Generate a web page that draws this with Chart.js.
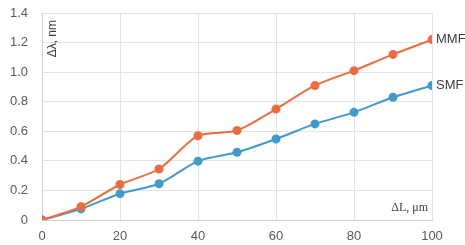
<!DOCTYPE html>
<html><head><meta charset="utf-8">
<script src="https://cdn.jsdelivr.net/npm/chart.js@4/dist/chart.umd.min.js"></script>
<style>html,body{margin:0;padding:0;background:#fff}#wrap{width:465px;height:245px}</style>
</head><body><div id="wrap"><canvas id="c" width="465" height="245"></canvas></div>
<script>
const xValues = [0, 10, 20, 30, 40, 50, 60, 70, 80, 90, 100];
const mmfValues = [0, 0.09, 0.24, 0.345, 0.57, 0.605, 0.75, 0.91, 1.01, 1.12, 1.22];
const smfValues = [0, 0.075, 0.178, 0.245, 0.398, 0.458, 0.548, 0.65, 0.728, 0.83, 0.91];
const seriesNames = ['MMF', 'SMF'];
const yTitle = 'Δλ, nm';
const xTitle = 'ΔL, μm';

const ORANGE = '#EE6C3E', BLUE = '#3F9BCC';
const FONT = '"Liberation Sans", Arial, sans-serif';
const SERIF = '"Liberation Serif", "Times New Roman", serif';

const labelsPlugin = {
  id: 'labelsPlugin',
  afterDatasetsDraw(chart) {
    const ctx = chart.ctx, a = chart.chartArea;
    ctx.save();
    ctx.fillStyle = '#404040';
    ctx.font = '13px ' + FONT;
    ctx.textBaseline = 'middle';
    ctx.textAlign = 'left';
    chart.data.datasets.forEach((ds, i) => {
      const meta = chart.getDatasetMeta(i);
      const p = meta.data[meta.data.length - 1];
      ctx.fillText(ds.label, p.x + 4, p.y);
    });
    ctx.font = '12px ' + SERIF;
    ctx.textAlign = 'right';
    ctx.textBaseline = 'middle';
    ctx.fillText(xTitle, a.right - 4, a.bottom - 12);
    ctx.font = '12px ' + FONT;
    ctx.translate(a.left + 11, a.top + 7);
    ctx.rotate(-Math.PI / 2);
    ctx.textAlign = 'right';
    ctx.fillText(yTitle, 0, 0);
    ctx.restore();
  }
};

new Chart(document.getElementById('c'), {
  type: 'line',
  data: {
    datasets: [
      { label: seriesNames[0], data: xValues.map((x, i) => ({x, y: mmfValues[i]})),
        borderColor: ORANGE, backgroundColor: ORANGE, pointRadius: 3.5, borderWidth: 2, tension: 0.25 },
      { label: seriesNames[1], data: xValues.map((x, i) => ({x, y: smfValues[i]})),
        borderColor: BLUE, backgroundColor: BLUE, pointRadius: 3.5, borderWidth: 2, tension: 0.25 }
    ]
  },
  options: {
    responsive: false, animation: false,
    layout: { padding: { top: 0, right: 33, left: 0, bottom: 0 } },
    plugins: { legend: { display: false }, tooltip: { enabled: false } },
    scales: {
      x: { type: 'linear', min: 0, max: 100,
        ticks: { stepSize: 20, color: '#595959', font: { family: FONT, size: 13 }, padding: 9 },
        grid: { color: '#e3e3e3', drawTicks: false },
        border: { color: '#d0d0d0' },
        afterFit(s) { s.height = 25; } },
      y: { min: 0, max: 1.4,
        ticks: { stepSize: 0.2, color: '#595959', font: { family: FONT, size: 13 }, padding: 14,
          callback: v => v === 0 ? '0' : v.toFixed(1) },
        grid: { color: '#e3e3e3', drawTicks: false },
        border: { color: '#d0d0d0' },
        afterFit(s) { s.width = 42; s.paddingTop = 13; s.paddingBottom = 0; } }
    }
  },
  plugins: [labelsPlugin]
});
</script></body></html>
